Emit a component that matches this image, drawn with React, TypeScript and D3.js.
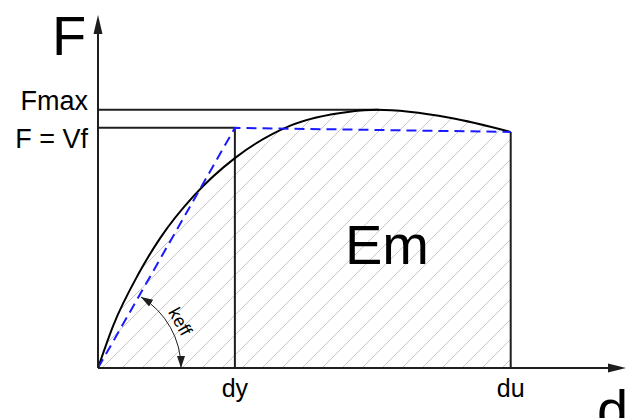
import React from "react";
import * as d3 from "d3";

// Capacity curve (force F versus displacement d), normalised units
const curveD = [0, 0.112, 0.294, 0.453, 0.708, 1.0, 1.401, 1.839, 2.036, 2.569, 3.015];
const curveF = [0, 0.178, 0.39, 0.54, 0.722, 0.874, 1.008, 1.067, 1.075, 1.042, 0.983];

// Key displacements and forces
const dYield = 1.0; // dy
const dUlt = 3.015; // du
const fYield = 1.0; // F = Vf
const fUlt = 0.983;
const fMax = 1.075; // Fmax
const dAtFmax = 2.05;

// Bilinear idealisation (origin -> yield -> ultimate)
const biD = [0, dYield, dUlt];
const biF = [0, fYield, fUlt];

const yLabels = ["Fmax", "F = Vf"];
const xLabels = ["dy", "du"];

const W = 627;
const H = 418;

export default function App() {
  const x = d3.scaleLinear().domain([0, 3.85]).range([98, 625]);
  const y = d3.scaleLinear().domain([0, 1.47]).range([368, 15]);

  const pts: [number, number][] = curveD.map((d, i) => [d, curveF[i]]);
  const line = d3
    .line<[number, number]>()
    .x((p) => x(p[0]))
    .y((p) => y(p[1]))
    .curve(d3.curveMonotoneX);
  const area = d3
    .area<[number, number]>()
    .x((p) => x(p[0]))
    .y0(y(0))
    .y1((p) => y(p[1]))
    .curve(d3.curveMonotoneX);

  const biPts: [number, number][] = biD.map((d, i) => [d, biF[i]]);
  const biLine = d3
    .line<[number, number]>()
    .x((p) => x(p[0]))
    .y((p) => y(p[1]));

  const x0 = x(0);
  const y0 = y(0);

  // hatch lines at 45 degrees
  const hatch: number[] = [];
  for (let s = 122 - 420; s <= x(dUlt) + 10; s += 20) hatch.push(s);

  // stiffness arc (keff)
  const r = 83;
  const ang = Math.atan2(y0 - y(fYield), x(dYield) - x0) - 0.025;
  const ax1 = x0 + r;
  const ay1 = y0;
  const ax2 = x0 + r * Math.cos(ang);
  const ay2 = y0 - r * Math.sin(ang);
  const midA = ang / 2;
  const tr = 93;
  const tx = x0 + tr * Math.cos(midA);
  const ty = y0 - tr * Math.sin(midA);
  const rot = 90 - (midA * 180) / Math.PI;

  const font = "Liberation Sans, Arial, Helvetica, sans-serif";
  const ink = "#1e1e1e";

  return (
    <svg
      width={W}
      height={H}
      style={{ position: "absolute", left: 0, top: 0, background: "#fff" }}
      fontFamily={font}
    >
      <defs>
        <clipPath id="under-curve">
          <path d={area(pts) || ""} />
        </clipPath>
        <marker
          id="arrowhead"
          viewBox="0 0 12 8"
          refX="12"
          refY="4"
          markerWidth="12"
          markerHeight="8"
          markerUnits="userSpaceOnUse"
          orient="auto-start-reverse"
        >
          <path d="M0,0 L12,4 L0,8 Z" fill={ink} />
        </marker>
      </defs>

      {/* hatched energy area */}
      <g clipPath="url(#under-curve)">
        {hatch.map((s) => (
          <line
            key={s}
            x1={s}
            y1={y0}
            x2={s + 420}
            y2={y0 - 420}
            stroke="#c9c9c9"
            strokeWidth={1}
          />
        ))}
      </g>

      {/* reference lines */}
      <line x1={x0} y1={y(fMax)} x2={x(dAtFmax)} y2={y(fMax)} stroke={ink} strokeWidth={2} />
      <line x1={x0} y1={y(fYield)} x2={x(dYield)} y2={y(fYield)} stroke={ink} strokeWidth={2} />
      <line x1={x(dYield)} y1={y(fYield)} x2={x(dYield)} y2={y0} stroke={ink} strokeWidth={2} />
      <line x1={x(dUlt)} y1={y(fUlt)} x2={x(dUlt)} y2={y0} stroke={ink} strokeWidth={2} />

      {/* capacity curve */}
      <path d={line(pts) || ""} fill="none" stroke="#000" strokeWidth={2} />

      {/* bilinear idealisation */}
      <path
        d={biLine(biPts) || ""}
        fill="none"
        stroke="#1a1aff"
        strokeWidth={2}
        strokeDasharray="10,6"
      />

      {/* axes */}
      <line x1={x0} y1={y0} x2={x0} y2={34} stroke={ink} strokeWidth={2} />
      <path d={`M${x0},15 L${x0 - 4.5},34 L${x0 + 4.5},34 Z`} fill={ink} />
      <line x1={x0} y1={y0} x2={608} y2={y0} stroke={ink} strokeWidth={2} />
      <path d={`M626,${y0} L608,${y0 - 4.5} L608,${y0 + 4.5} Z`} fill={ink} />

      {/* keff arc */}
      <path
        d={`M${ax1},${ay1} A${r},${r} 0 0 0 ${ax2},${ay2}`}
        fill="none"
        stroke={ink}
        strokeWidth={1}
        markerStart="url(#arrowhead)"
        markerEnd="url(#arrowhead)"
      />
      <text
        x={tx}
        y={ty}
        fontSize={18}
        textAnchor="middle"
        dominantBaseline="middle"
        transform={`rotate(${rot},${tx},${ty})`}
        fill="#000"
      >
        keff
      </text>

      {/* labels */}
      <text x={52} y={55} fontSize={56} fill="#000">
        F
      </text>
      <text x={88} y={y(fMax) + 0.5} fontSize={27} textAnchor="end" fill="#000">
        {yLabels[0]}
      </text>
      <text x={88} y={y(fYield) + 20} fontSize={27} textAnchor="end" fill="#000">
        {yLabels[1]}
      </text>
      <text x={x(dYield)} y={397} fontSize={25} textAnchor="middle" fill="#000">
        {xLabels[0]}
      </text>
      <text x={x(dUlt)} y={397} fontSize={25} textAnchor="middle" fill="#000">
        {xLabels[1]}
      </text>
      <text x={597} y={429} fontSize={56} fill="#000">
        d
      </text>
      <text x={345} y={264} fontSize={56} fill="#000">
        Em
      </text>
    </svg>
  );
}
